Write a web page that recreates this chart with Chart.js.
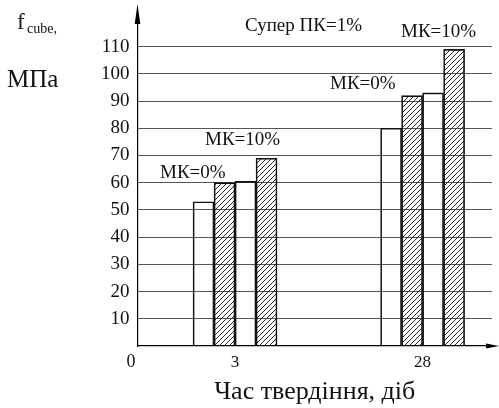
<!DOCTYPE html>
<html><head><meta charset="utf-8">
<script src="https://cdn.jsdelivr.net/npm/chart.js@4"></script>
<style>html,body{margin:0;padding:0;background:#fff}#wrap{width:499px;height:408px}</style>
</head><body>
<div id="wrap"><canvas id="c"></canvas></div>
<script>
const categories = ['3', '28'];
const catPositions = [1, 2];
const seriesA = [53, 80];     // white
const seriesB = [60, 92];     // hatched
const seriesC = [60.5, 93];   // white
const seriesD = [69, 109];    // hatched
const yTicks = [10, 20, 30, 40, 50, 60, 70, 80, 90, 100, 110];
const yMax = 120;
const annotations = [
  { text: 'Супер ПК=1%', x: 245, y: 31 },
  { text: 'МК=0%', x: 160, y: 178 },
  { text: 'МК=10%', x: 205, y: 145 },
  { text: 'МК=0%', x: 330, y: 89 },
  { text: 'МК=10%', x: 401, y: 37 }
];
const SERIF = "'Liberation Serif', 'DejaVu Serif', serif";

function makeHatch() {
  const p = document.createElement('canvas');
  p.width = 5; p.height = 5;
  const g = p.getContext('2d');
  g.strokeStyle = '#111';
  g.lineWidth = 0.9;
  g.beginPath();
  g.moveTo(0, 5); g.lineTo(5, 0);
  g.moveTo(-1, 1); g.lineTo(1, -1);
  g.moveTo(4, 6); g.lineTo(6, 4);
  g.stroke();
  return g.createPattern(p, 'repeat');
}
const hatch = makeHatch();

function toPoints(arr) { return catPositions.map((x, i) => ({ x: x, y: arr[i] })); }

const common = { barThickness: 21, borderColor: '#111', borderWidth: 1, borderSkipped: 'bottom' };

const extras = {
  id: 'extras',
  afterDraw(chart) {
    const ctx = chart.ctx;
    const ca = chart.chartArea;
    const xs = chart.scales.x, ys = chart.scales.y;
    const x0 = xs.left, y0 = ys.bottom;
    ctx.save();
    ctx.strokeStyle = '#000'; ctx.fillStyle = '#000'; ctx.lineWidth = 1.2;
    ctx.beginPath(); ctx.moveTo(x0, ca.top); ctx.lineTo(x0, 20); ctx.stroke();
    ctx.beginPath(); ctx.moveTo(x0, 4); ctx.lineTo(x0 - 2.8, 24); ctx.lineTo(x0 + 2.8, 24); ctx.closePath(); ctx.fill();
    ctx.beginPath(); ctx.moveTo(ca.right, y0); ctx.lineTo(490, y0); ctx.stroke();
    ctx.beginPath(); ctx.moveTo(499, y0); ctx.lineTo(486, y0 - 2.6); ctx.lineTo(486, y0 + 2.6); ctx.closePath(); ctx.fill();
    ctx.fillStyle = '#111';
    ctx.textBaseline = 'alphabetic';
    ctx.textAlign = 'left';
    ctx.font = '19px ' + SERIF;
    annotations.forEach(a => ctx.fillText(a.text, a.x, a.y));
    ctx.font = '18px ' + SERIF;
    ctx.fillText('0', x0 - 11, y0 + 21);
    ctx.font = '23px ' + SERIF;
    ctx.fillText('f', 17, 29);
    ctx.font = '14px ' + SERIF;
    ctx.fillText('cube,', 27, 33);
    ctx.font = '25px ' + SERIF;
    ctx.fillText('МПа', 7, 87);
    ctx.restore();
  }
};

new Chart(document.getElementById('c'), {
  type: 'bar',
  data: {
    datasets: [
      Object.assign({ label: 'A', data: toPoints(seriesA), backgroundColor: 'rgba(0,0,0,0)' }, common),
      Object.assign({ label: 'B', data: toPoints(seriesB), backgroundColor: hatch }, common),
      Object.assign({ label: 'C', data: toPoints(seriesC), backgroundColor: 'rgba(0,0,0,0)' }, common),
      Object.assign({ label: 'D', data: toPoints(seriesD), backgroundColor: hatch }, common)
    ]
  },
  options: {
    responsive: true,
    maintainAspectRatio: false,
    animation: false,
    devicePixelRatio: 1,
    layout: { padding: { top: 12, right: 7, left: 0, bottom: 0 } },
    plugins: { legend: { display: false }, tooltip: { enabled: false } },
    scales: {
      x: {
        type: 'linear',
        offset: false,
        min: 0.48, max: 2.37,
        afterBuildTicks: s => { s.ticks = catPositions.map(v => ({ value: v })); },
        afterFit: s => { s.height = 62; },
        grid: { display: false, drawTicks: false, offset: false },
        border: { display: true, color: '#000', width: 1.2 },
        ticks: { callback: (v, i) => categories[i], color: '#111', padding: 6, font: { family: SERIF, size: 17 }, maxRotation: 0 },
        title: { display: true, text: 'Час твердіння, діб', color: '#111', font: { family: SERIF, size: 26 }, padding: { top: 0, bottom: 0 } }
      },
      y: {
        min: 0, max: yMax,
        afterBuildTicks: s => { s.ticks = yTicks.map(v => ({ value: v })); },
        afterFit: s => { s.width = 137.5; },
        grid: { color: '#555', lineWidth: 1, drawTicks: false },
        border: { display: true, color: '#000', width: 1.2 },
        ticks: { color: '#111', padding: 8, font: { family: SERIF, size: 19 } }
      }
    }
  },
  plugins: [extras]
});
</script>
</body></html>
